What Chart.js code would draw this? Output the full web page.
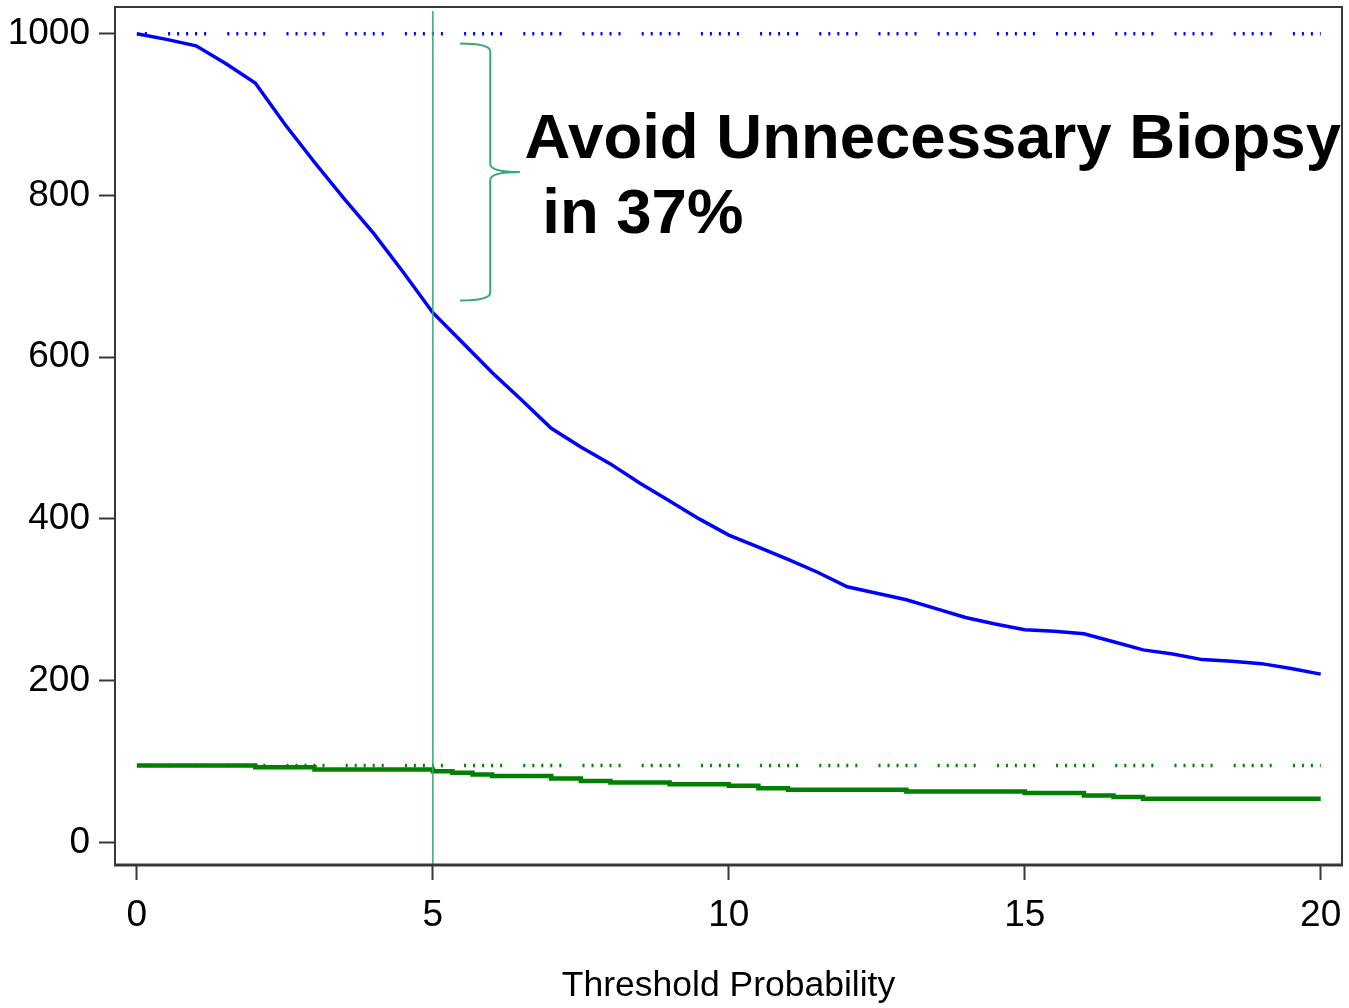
<!DOCTYPE html>
<html>
<head>
<meta charset="utf-8">
<script src="https://cdn.jsdelivr.net/npm/chart.js@4.4.0/dist/chart.umd.min.js"></script>
<style>
  html, body { margin: 0; padding: 0; background: #fff; }
</style>
</head>
<body>
<canvas id="chartDca" width="1349" height="1008"></canvas>
<script>
// threshold probability (%) on the x axis
const thresholds = [0, 0.5, 1, 1.5, 2, 2.5, 3, 3.5, 4, 4.5, 5, 5.5, 6, 6.5, 7, 7.5, 8, 8.5, 9, 9.5, 10,
                    10.5, 11, 11.5, 12, 12.5, 13, 13.5, 14, 14.5, 15, 15.5, 16, 16.5, 17, 17.5, 18, 18.5, 19, 19.5, 20];
// biopsies per 1000 men using the model (blue)
const biopsies = [1000, 993, 985, 963, 939, 888, 841, 796, 753, 705, 655, 618, 581, 547, 512, 489, 468, 444, 422, 400, 380,
                  365, 350, 334, 316, 308, 300, 289, 278, 270, 263, 261, 258, 248, 238, 233, 226, 224, 221, 215, 208];
// cancers found using the model (green, step line)
const cancerSteps = [0, 2, 3, 5, 5.33, 5.67, 6, 7, 7.5, 8, 9, 10, 10.5, 11, 13, 15, 16, 16.5, 17, 20];
const cancers = [95, 93, 90, 88, 86, 84, 82, 79, 76, 74, 72, 70, 67, 65, 63, 61, 58, 56, 54, 54];
// biopsy everyone reference levels (dotted)
const biopsyAll = 1000;
const cancersAll = 95;
const cutoff = 5;
const xTicks = [0, 5, 10, 15, 20];
const yTicks = [0, 200, 400, 600, 800, 1000];
const noteLines = ['Avoid Unnecessary Biopsy', ' in 37%'];

const FONT = "'Liberation Sans', Arial, sans-serif";
const BLUE = '#0000ff';
const GREEN = '#008000';
const TEAL = '#35a877';

// frame, brace and the text beside it
const notePlugin = {
    id: 'note',
    afterDraw(chart) {
        const ctx = chart.ctx;
        const xs = chart.scales.x, ys = chart.scales.y;
        const a = chart.chartArea;

        ctx.save();
        ctx.strokeStyle = '#383838';
        ctx.lineWidth = 2;
        ctx.beginPath();
        ctx.moveTo(a.left, a.bottom);
        ctx.lineTo(a.left, a.top);
        ctx.lineTo(a.right, a.top);
        ctx.lineTo(a.right, a.bottom);
        ctx.stroke();
        ctx.lineWidth = 3;
        ctx.beginPath();
        ctx.moveTo(a.left - 1, a.bottom);
        ctx.lineTo(a.right + 1, a.bottom);
        ctx.stroke();

        // curly brace
        const L = xs.getPixelForValue(5.46), S = xs.getPixelForValue(5.97), T = xs.getPixelForValue(6.47);
        const top = ys.getPixelForValue(988), mid = ys.getPixelForValue(829), bot = ys.getPixelForValue(670);
        const r = 8;
        ctx.strokeStyle = TEAL;
        ctx.lineWidth = 2;
        ctx.beginPath();
        ctx.moveTo(L, top);
        ctx.quadraticCurveTo(S, top, S, top + r);
        ctx.lineTo(S, mid - r);
        ctx.quadraticCurveTo(S, mid, T, mid);
        ctx.moveTo(T, mid);
        ctx.quadraticCurveTo(S, mid, S, mid + r);
        ctx.lineTo(S, bot - r);
        ctx.quadraticCurveTo(S, bot, L, bot);
        ctx.stroke();

        ctx.fillStyle = '#000';
        ctx.font = 'bold 63.5px ' + FONT;
        ctx.textBaseline = 'alphabetic';
        ctx.textAlign = 'left';
        const tx = xs.getPixelForValue(6.55);
        ctx.fillText(noteLines[0], tx, ys.getPixelForValue(846));
        ctx.fillText(noteLines[1], tx, ys.getPixelForValue(753));
        ctx.restore();
    }
};

const ctxDca = document.getElementById('chartDca').getContext('2d');
const dcaChart = new Chart(ctxDca, {
    type: 'line',
    data: {
        datasets: [
            {
                // cutoff at 5%
                data: [{x: cutoff, y: 1028}, {x: cutoff, y: -40}],
                borderColor: TEAL,
                borderWidth: 1.5,
                order: 0
            },
            {
                data: thresholds.map((t, i) => ({x: t, y: biopsies[i]})),
                borderColor: BLUE,
                borderWidth: 3.5,
                order: 1
            },
            {
                data: cancerSteps.map((t, i) => ({x: t, y: cancers[i]})),
                borderColor: GREEN,
                borderWidth: 4.5,
                stepped: 'before',
                order: 2
            },
            {
                data: [{x: 0, y: biopsyAll}, {x: 20, y: biopsyAll}],
                borderColor: BLUE,
                borderWidth: 3.5,
                borderDash: [2, 7, 2, 7, 2, 7, 2, 7, 2, 21.2],
                borderDashOffset: 28,
                order: 3
            },
            {
                data: [{x: 0, y: cancersAll}, {x: 20, y: cancersAll}],
                borderColor: GREEN,
                borderWidth: 3.5,
                borderDash: [2, 7, 2, 7, 2, 7, 2, 7, 2, 21.2],
                borderDashOffset: 28,
                order: 4
            }
        ]
    },
    options: {
        responsive: false,
        animation: false,
        layout: { padding: { top: 7, right: 7, left: 0, bottom: 0 } },
        elements: { point: { radius: 0 }, line: { tension: 0 } },
        plugins: {
            legend: { display: false },
            tooltip: { enabled: false }
        },
        scales: {
            x: {
                type: 'linear',
                min: -0.37,
                max: 20.36,
                afterBuildTicks: s => { s.ticks = xTicks.map(v => ({value: v})); },
                afterFit: s => {
                    s.height = 143;
                    s.paddingLeft = 0;
                    s.paddingRight = 0;
                },
                grid: { drawOnChartArea: false, tickLength: 15, tickColor: '#383838', tickWidth: 2 },
                border: { display: false },
                ticks: {
                    font: { family: FONT, size: 37 }, color: '#000', padding: 14, maxRotation: 0, autoSkip: false,
                    callback: v => String(v)
                },
                title: {
                    display: true,
                    text: 'Threshold Probability',
                    font: { family: FONT, size: 35.5 },
                    color: '#000',
                    padding: { top: 0, bottom: 0 }
                }
            },
            y: {
                type: 'linear',
                min: -28,
                max: 1033,
                afterBuildTicks: s => { s.ticks = yTicks.map(v => ({value: v})); },
                afterFit: s => {
                    s.width = 115;
                    s.paddingTop = 0;
                    s.paddingBottom = 0;
                },
                grid: { drawOnChartArea: false, tickLength: 16, tickColor: '#383838', tickWidth: 2 },
                border: { display: false },
                ticks: {
                    font: { family: FONT, size: 37 }, color: '#000', padding: 9,
                    callback: v => String(v)
                }
            }
        }
    },
    plugins: [notePlugin]
});
</script>
</body>
</html>
